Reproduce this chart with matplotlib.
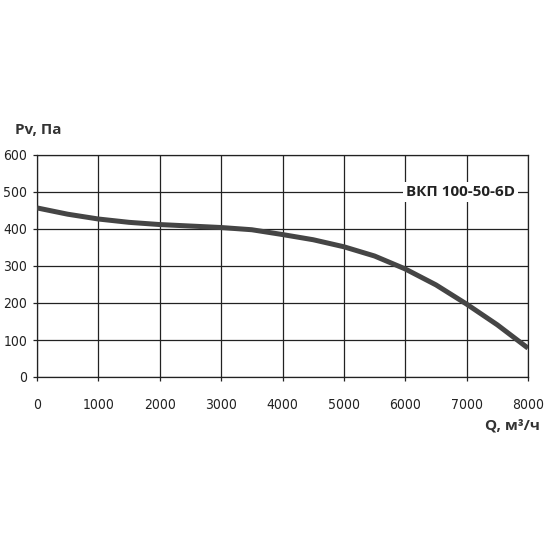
import matplotlib
matplotlib.use("Agg")
import matplotlib.pyplot as plt
from matplotlib import font_manager

q = [0, 500, 1000, 1500, 2000, 2500, 3000, 3500, 4000, 4500, 5000, 5500, 6000, 6500, 7000, 7500, 8000]
pv = [457, 440, 427, 418, 412, 408, 404, 398, 385, 371, 352, 327, 292, 249, 197, 141, 78]

x_ticks = [0, 1000, 2000, 3000, 4000, 5000, 6000, 7000, 8000]
y_ticks = [0, 100, 200, 300, 400, 500, 600]

# regular condensed face for the tick numbers if one is installed
cond = [f for f in font_manager.fontManager.ttflist
        if ("ondensed" in f.fname or "Narrow" in f.name)
        and f.weight in (400, "normal", "regular") and f.style == "normal"
        and "Bold" not in f.fname and "Oblique" not in f.fname and "Italic" not in f.fname]
tick_font = cond[0].fname if cond else None

fig = plt.figure(figsize=(5.5, 5.5), dpi=100)
ax = fig.add_axes([37 / 550, 1 - 377 / 550, 491 / 550, 222 / 550])

ax.plot(q, pv, color="#454545", lw=3.6, solid_capstyle="butt", zorder=3)

ax.set_xlim(0, 8000)
ax.set_ylim(0, 600)
ax.set_xticks(x_ticks)
ax.set_yticks(y_ticks)
ax.grid(True, color="#222222", lw=0.9)
for s in ax.spines.values():
    s.set_color("#222222")
    s.set_linewidth(0.9)
ax.tick_params(length=3, width=0.9, color="#222222", pad=4)
for lab in ax.get_xticklabels() + ax.get_yticklabels():
    if tick_font:
        lab.set_fontproperties(font_manager.FontProperties(fname=tick_font, size=10))
    else:
        lab.set_fontsize(9)
    lab.set_color("#222222")
ax.tick_params(axis="x", pad=12)

ax.text(7790, 500, "ВКП 100-50-6D", ha="right", va="center", fontsize=11,
        fontweight="bold", family="Open Sans", color="#222222",
        bbox=dict(facecolor="white", edgecolor="none", pad=2), zorder=4)

fig.text(15 / 550, 1 - 130 / 550, "Pv, Па", ha="left", va="center", fontsize=11,
         fontweight="bold", family="Open Sans", color="#333333")
fig.text(540 / 550, 1 - 425 / 550, "Q, м³/ч", ha="right", va="center", fontsize=11,
         fontweight="bold", family="Open Sans", color="#333333")

fig.savefig("out.png", dpi=100)
